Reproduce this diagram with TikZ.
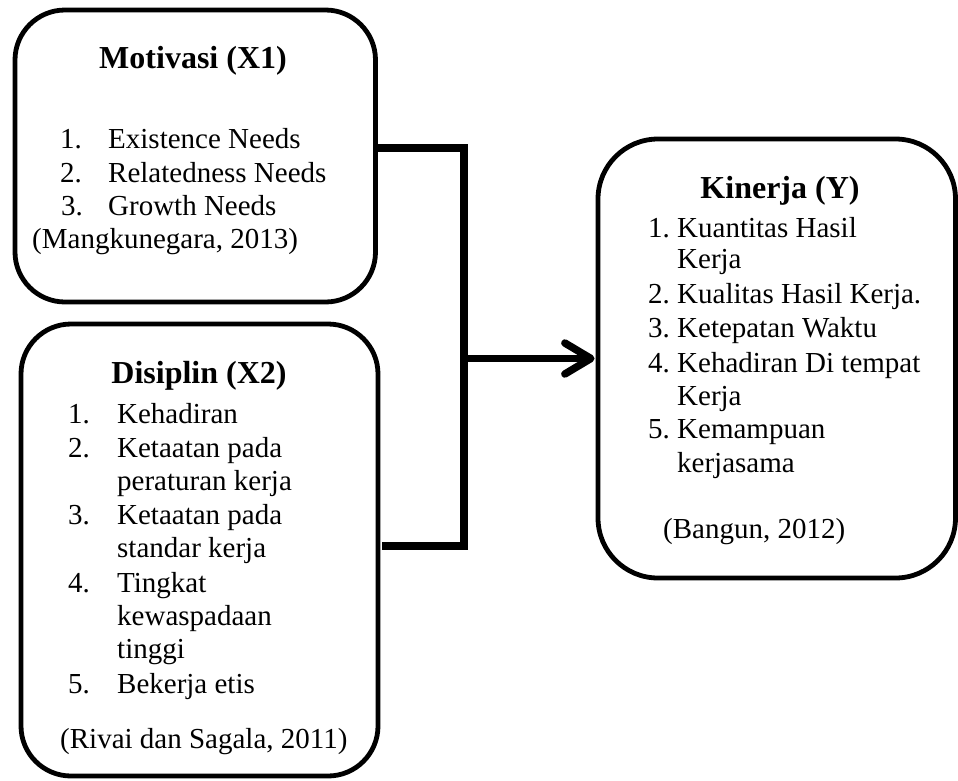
\documentclass[tikz,border=0pt]{standalone}
\usepackage{fontspec}
\setmainfont{Liberation Serif}
\usetikzlibrary{arrows.meta}

\newcommand{\bodysize}{\fontsize{29}{33.5}\selectfont}
\newcommand{\titlesize}{\fontsize{32}{36}\selectfont\bfseries}
\newcommand{\itm}[2]{\makebox[#1][l]{#2}}

\tikzset{
  varbox/.style={draw, line width=4.8pt, rounded corners=50pt, inner sep=0pt, fill=white},
  ttl/.style={anchor=base, inner sep=0pt, font=\titlesize},
  lbl/.style={anchor=base west, inner sep=0pt, font=\bodysize},
  bracketline/.style={line width=8pt, line join=miter},
  flowarrow/.style={line width=7.5pt, -{Straight Barb[length=26pt, width=31pt, round]}}
}

\begin{document}
\begin{tikzpicture}[x=1pt, y=-1pt]
\useasboundingbox (0,0) rectangle (958,780);

% variable boxes
\node[varbox, minimum width=360.5pt, minimum height=292pt] (mot) at (195.25,156) {};
\node[varbox, minimum width=357pt, minimum height=452pt] (dis) at (199.5,550) {};
\node[varbox, rounded corners=60pt, minimum width=357.5pt, minimum height=439pt] (kin) at (776.75,358.5) {};

% Motivasi (X1)
\node[ttl] (t1) at (193,68) {Motivasi (X1)};
\node[lbl] (m1) at (60,148) {\itm{48pt}{1.}Existence Needs};
\node[lbl] (m2) at (60,182) {\itm{48pt}{2.}Relatedness Needs};
\node[lbl] (m3) at (61,215) {\itm{47pt}{3.}Growth Needs};
\node[lbl] (m4) at (32,248) {(Mangkunegara, 2013)};

% Disiplin (X2)
\node[ttl] (t2) at (199,383) {Disiplin (X2)};
\node[lbl] (d1) at (68,423) {\itm{49pt}{1.}Kehadiran};
\node[lbl] (d2) at (68,457) {\itm{49pt}{2.}Ketaatan pada};
\node[lbl] (d2b) at (117,490) {peraturan kerja};
\node[lbl] (d3) at (68,524) {\itm{49pt}{3.}Ketaatan pada};
\node[lbl] (d3b) at (117,557) {standar kerja};
\node[lbl] (d4) at (68,592) {\itm{49pt}{4.}Tingkat};
\node[lbl] (d4b) at (117,625) {kewaspadaan};
\node[lbl] (d4c) at (117,658) {tinggi};
\node[lbl] (d5) at (68,693) {\itm{49pt}{5.}Bekerja etis};
\node[lbl] (d6) at (60,748) {(Rivai dan Sagala, 2011)};

% Kinerja (Y)
\node[ttl] (t3) at (780,198) {Kinerja (Y)};
\node[lbl] (k1) at (648,237) {\itm{29pt}{1.}Kuantitas Hasil};
\node[lbl] (k1b) at (677,268) {Kerja};
\node[lbl] (k2) at (648,303) {\itm{29pt}{2.}Kualitas Hasil Kerja.};
\node[lbl] (k3) at (648,337) {\itm{29pt}{3.}Ketepatan Waktu};
\node[lbl] (k4) at (648,372) {\itm{29pt}{4.}Kehadiran Di tempat};
\node[lbl] (k4b) at (677,405) {Kerja};
\node[lbl] (k5) at (648,438) {\itm{29pt}{5.}Kemampuan};
\node[lbl] (k5b) at (677,472) {kerjasama};
\node[lbl] (k6) at (663,538) {(Bangun, 2012)};

% bracket joining both inputs and the arrow to Kinerja
\coordinate (btop) at (mot.east |- 0,148);
\coordinate (bcorner) at (464,546);
\coordinate (bbot) at (382,546);
\coordinate (bmid) at (464,358.5);
\draw[bracketline] ([xshift=-2pt]btop) -| (bcorner) -- (bbot);
\draw[flowarrow] (bmid) -- ([xshift=-1pt]kin.west);
\end{tikzpicture}
\end{document}
